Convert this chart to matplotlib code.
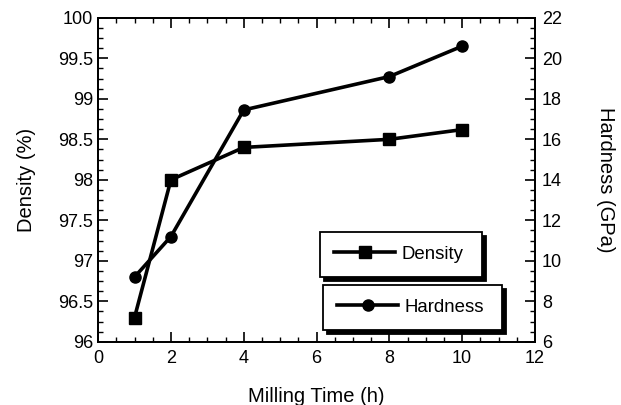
"""Density and hardness versus milling time, two y axes."""

import matplotlib

matplotlib.use("Agg")
import matplotlib.pyplot as plt
from matplotlib.lines import Line2D
from matplotlib.ticker import FormatStrFormatter, MultipleLocator

milling_time = [1, 2, 4, 8, 10]
density = [96.3, 98.0, 98.4, 98.5, 98.62]
hardness = [9.2, 11.2, 17.45, 19.1, 20.6]

plt.rcParams["font.family"] = ["Liberation Sans", "DejaVu Sans"]

fig = plt.figure(figsize=(6.21, 4.05), dpi=100)
ax1 = fig.add_axes([0.158, 0.156, 0.7035, 0.80])
ax2 = ax1.twinx()

line_kw = dict(color="black", linewidth=2.6)
ax1.plot(milling_time, density, marker="s", markersize=8, **line_kw)
ax2.plot(milling_time, hardness, marker="o", markersize=8, **line_kw)

ax1.set_xlim(0, 12)
ax1.set_ylim(96, 100)
ax2.set_ylim(6, 22)

ax1.xaxis.set_major_locator(MultipleLocator(2))
ax1.xaxis.set_minor_locator(MultipleLocator(0.5))
ax1.yaxis.set_major_locator(MultipleLocator(0.5))
ax1.yaxis.set_minor_locator(MultipleLocator(0.125))
ax1.yaxis.set_major_formatter(FormatStrFormatter("%g"))
ax2.yaxis.set_major_locator(MultipleLocator(2))
ax2.yaxis.set_minor_locator(MultipleLocator(0.5))

for ax in (ax1, ax2):
    ax.tick_params(which="major", direction="in", length=7, width=1.2, labelsize=13)
    ax.tick_params(which="minor", direction="in", length=3.5, width=1.0)
    for sp in ax.spines.values():
        sp.set_linewidth(1.3)
ax1.tick_params(which="both", top=True, right=False)
ax1.tick_params(axis="x", which="major", pad=6)
ax2.tick_params(axis="y", which="major", pad=5)

ax1.set_xlabel("Milling Time (h)", fontsize=14.5, labelpad=14)
ax1.set_ylabel("Density (%)", fontsize=14.5, labelpad=16)
ax2.set_ylabel("Hardness (GPa)", fontsize=14.5, rotation=270, labelpad=38)

shadow = {"ox": 3, "oy": -3, "color": "black", "alpha": 1}
leg_kw = dict(loc="upper left", mode="expand", borderaxespad=0, fontsize=13.4,
              fancybox=False, edgecolor="black", framealpha=1, shadow=shadow,
              handlelength=3.3, handletextpad=0.35, borderpad=0.75)

h_density = Line2D([], [], marker="s", markersize=8, **line_kw)
h_hardness = Line2D([], [], marker="o", markersize=8, **line_kw)

leg1 = ax2.legend([h_density], ["Density"], bbox_to_anchor=(0.508, 0.207, 0.37, 0.133), **leg_kw)
leg1.get_frame().set_linewidth(1.3)
ax2.add_artist(leg1)
leg2 = ax2.legend([h_hardness], ["Hardness"], bbox_to_anchor=(0.515, 0.031, 0.41, 0.145), **leg_kw)
leg2.get_frame().set_linewidth(1.3)

fig.savefig("out.png", dpi=100)
